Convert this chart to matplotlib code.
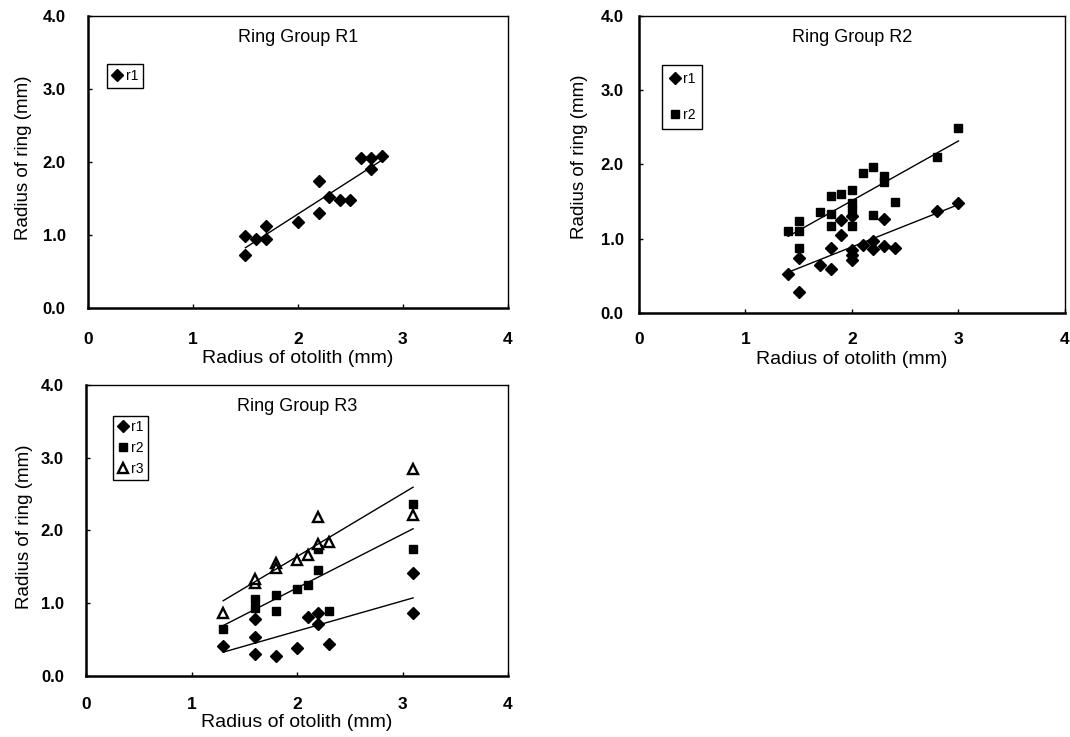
import numpy as np
import matplotlib
matplotlib.use('Agg')
import matplotlib.pyplot as plt

plt.rcParams['font.family'] = ['Liberation Sans', 'DejaVu Sans']

# Ring Group R1
r1_x_g1 = [1.5, 1.5, 1.6, 1.7, 1.7, 2.0, 2.2, 2.2, 2.3, 2.4, 2.5, 2.6, 2.7, 2.7, 2.8]
r1_y_g1 = [0.98, 0.73, 0.94, 0.94, 1.12, 1.18, 1.30, 1.74, 1.52, 1.48, 1.48, 2.06, 2.06, 1.91, 2.08]

# Ring Group R2
r1_x_g2 = [1.4, 1.5, 1.5, 1.7, 1.8, 1.8, 1.9, 1.9, 2.0, 2.0, 2.0, 2.0, 2.1, 2.2, 2.2, 2.3, 2.3, 2.4, 2.8, 3.0]
r1_y_g2 = [0.53, 0.28, 0.74, 0.65, 0.59, 0.88, 1.05, 1.25, 0.72, 0.78, 0.85, 1.30, 0.92, 0.97, 0.86, 0.90, 1.26, 0.87, 1.38, 1.48]
r2_x_g2 = [1.4, 1.5, 1.5, 1.5, 1.7, 1.8, 1.8, 1.8, 1.9, 2.0, 2.0, 2.0, 2.0, 2.1, 2.2, 2.2, 2.3, 2.3, 2.4, 2.8, 3.0]
r2_y_g2 = [1.11, 1.11, 1.24, 0.88, 1.36, 1.34, 1.57, 1.17, 1.60, 1.66, 1.48, 1.39, 1.17, 1.88, 1.97, 1.32, 1.85, 1.76, 1.50, 2.10, 2.49]

# Ring Group R3
x_g3 = [1.3, 1.6, 1.6, 1.6, 1.8, 2.0, 2.1, 2.2, 2.2, 2.3, 3.1, 3.1]
r1_y_g3 = [0.41, 0.30, 0.53, 0.78, 0.27, 0.38, 0.81, 0.87, 0.71, 0.44, 1.42, 0.86]
r2_x_g3 = [1.3, 1.6, 1.6, 1.8, 1.8, 2.0, 2.1, 2.2, 2.2, 2.3, 3.1, 3.1]
r2_y_g3 = [0.65, 0.94, 1.06, 0.89, 1.12, 1.20, 1.25, 1.46, 1.75, 0.90, 2.37, 1.75]
r3_x_g3 = [1.3, 1.6, 1.6, 1.8, 1.8, 2.0, 2.1, 2.2, 2.2, 2.3, 3.1, 3.1]
r3_y_g3 = [0.86, 1.28, 1.33, 1.55, 1.48, 1.59, 1.66, 2.18, 1.82, 1.84, 2.85, 2.21]

x_ticks = [0, 1, 2, 3, 4]
y_ticks = [0, 1, 2, 3, 4]
y_labels = ['0.0', '1.0', '2.0', '3.0', '4.0']

MARKERS = {'r1': dict(marker='D', ms=6.2, mfc='black', mec='black'),
           'r2': dict(marker='s', ms=6.0, mfc='black', mec='black'),
           'r3': dict(marker='^', ms=7.0, mfc='white', mec='black', mew=1.7)}


def draw_series(ax, x, y, name):
    ax.plot(x, y, linestyle='none', label=name, **MARKERS[name])
    fit = np.polyfit(x, y, 1)
    xs = np.array([min(x), max(x)])
    ax.plot(xs, np.polyval(fit, xs), color='black', lw=1.0)


def style_axes(ax, title, ypad, xpad, xlab_y, ylab_x, ylab_y):
    ax.set_xlim(0, 4)
    ax.set_ylim(0, 4)
    ax.set_xticks(x_ticks)
    ax.set_yticks(y_ticks)
    ax.set_yticklabels(y_labels)
    ax.tick_params(axis='both', direction='in', length=3, width=1)
    ax.tick_params(axis='y', pad=ypad, labelsize=12)
    ax.tick_params(axis='x', pad=xpad, labelsize=12.5)
    for lab in ax.get_xticklabels() + ax.get_yticklabels():
        lab.set_fontweight('bold')
    for side in ['left', 'bottom']:
        ax.spines[side].set_linewidth(1.8)
    for side in ['top', 'right']:
        ax.spines[side].set_linewidth(1.0)
    ax.text(0.5, 0.955, title, transform=ax.transAxes, ha='center', va='top', fontsize=13)
    ax.set_xlabel('Radius of otolith (mm)', fontsize=14)
    ax.set_ylabel('Radius of ring (mm)', fontsize=13.5)
    ax.xaxis.set_label_coords(0.5, xlab_y)
    ax.yaxis.set_label_coords(ylab_x, ylab_y)


fig = plt.figure(figsize=(10.7, 7.37), dpi=100)

ax1 = fig.add_axes([0.0822, 0.5821, 0.3925, 0.3962])
draw_series(ax1, r1_x_g1, r1_y_g1, 'r1')
style_axes(ax1, 'Ring Group R1', 16, 17, -0.145, -0.133, 0.514)
ax1.legend(loc='upper left', bbox_to_anchor=(0.045, 0.835), fontsize=10, frameon=True,
           fancybox=False, edgecolor='black', framealpha=1, borderpad=0.35,
           handletextpad=0.2, handlelength=0.8, borderaxespad=0)

ax2 = fig.add_axes([0.5972, 0.5753, 0.3981, 0.4030])
draw_series(ax2, r1_x_g2, r1_y_g2, 'r1')
draw_series(ax2, r2_x_g2, r2_y_g2, 'r2')
style_axes(ax2, 'Ring Group R2', 11, 14, -0.128, -0.12, 0.525)
ax2.legend(loc='upper left', bbox_to_anchor=(0.054, 0.835), fontsize=10, frameon=True,
           fancybox=False, edgecolor='black', framealpha=1, borderpad=0.5,
           handletextpad=0.2, handlelength=0.8, labelspacing=1.6, borderaxespad=0)

ax3 = fig.add_axes([0.0804, 0.0828, 0.3944, 0.3948])
draw_series(ax3, x_g3, r1_y_g3, 'r1')
draw_series(ax3, r2_x_g3, r2_y_g3, 'r2')
draw_series(ax3, r3_x_g3, r3_y_g3, 'r3')
style_axes(ax3, 'Ring Group R3', 16, 15, -0.131, -0.126, 0.514)
ax3.legend(loc='upper left', bbox_to_anchor=(0.064, 0.893), fontsize=10, frameon=True,
           fancybox=False, edgecolor='black', framealpha=1, borderpad=0.3,
           handletextpad=0.2, handlelength=0.8, labelspacing=0.5, borderaxespad=0)

fig.savefig('out.png', dpi=100)
